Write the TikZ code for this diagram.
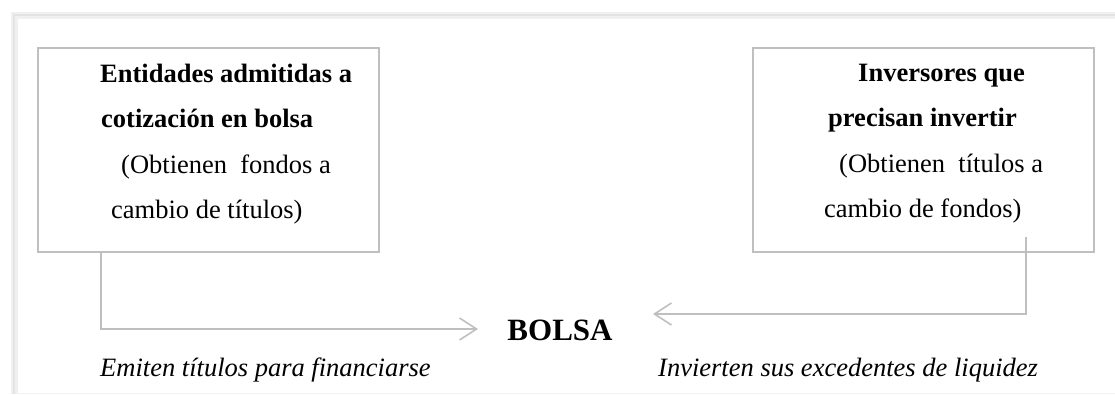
\documentclass[tikz,border=0pt]{standalone}
\usepackage{fontspec}
\setmainfont{Liberation Serif}
\usetikzlibrary{arrows.meta,positioning}

\tikzset{
  caja/.style={draw=black!25, line width=1.5pt, minimum width=341pt, minimum height=204pt, inner sep=0pt},
  texto/.style={font=\fontsize{26.5}{45.3}\selectfont, align=left, inner sep=0pt, anchor=north west},
  flecha/.style={draw=black!25, line width=1.6pt, -{Straight Barb[length=17pt,width=22pt,line width=1.6pt]}},
  nota/.style={font=\fontsize{26.5}{30}\selectfont\itshape, inner sep=0pt, anchor=base west}
}

\begin{document}
\begin{tikzpicture}[x=1pt,y=-1pt]
\useasboundingbox (0,0) rectangle (1115,394);
% marco
\draw[black!6, line width=7pt] (14,394) -- (14,15) -- (1115,15);
\draw[black!11, line width=2.5pt] (14,394) -- (14,15) -- (1115,15);
\draw[black!5, line width=1pt] (17,393) -- (1115,393);

\node[caja, anchor=north west] (ent) at (37,47) {};
\node[caja, anchor=north west] (inv) at (752,47) {};

\node[texto] (enttxt) at (100,64) {\textbf{Entidades admitidas a}\\\hspace*{1pt}\textbf{cotización en bolsa}\\\hspace*{21pt}(Obtienen\ \ fondos a\\\hspace*{11pt}cambio de títulos)};
\node[texto] (invtxt) at (824,64) {\hspace*{34pt}\textbf{Inversores que}\\\hspace*{4pt}\textbf{precisan invertir}\\\hspace*{15pt}(Obtienen\ \ títulos a\\cambio de fondos)};

\node[font=\fontsize{31}{36}\selectfont\bfseries, inner sep=0pt, anchor=base] (bolsa) at (560,340) {BOLSA};

\coordinate (entout) at ([xshift=64pt]ent.south west);
\coordinate (entin) at (478,329);
\coordinate (invout) at (1026,237);
\coordinate (invin) at (653,314);

\draw[flecha] (entout) |- (entin);
\draw[flecha] (invout) |- (invin);

\node[nota] (emiten) at (100,376) {Emiten títulos para financiarse};
\node[nota] (invierten) at (658,376) {Invierten sus excedentes de liquidez};
\end{tikzpicture}
\end{document}
